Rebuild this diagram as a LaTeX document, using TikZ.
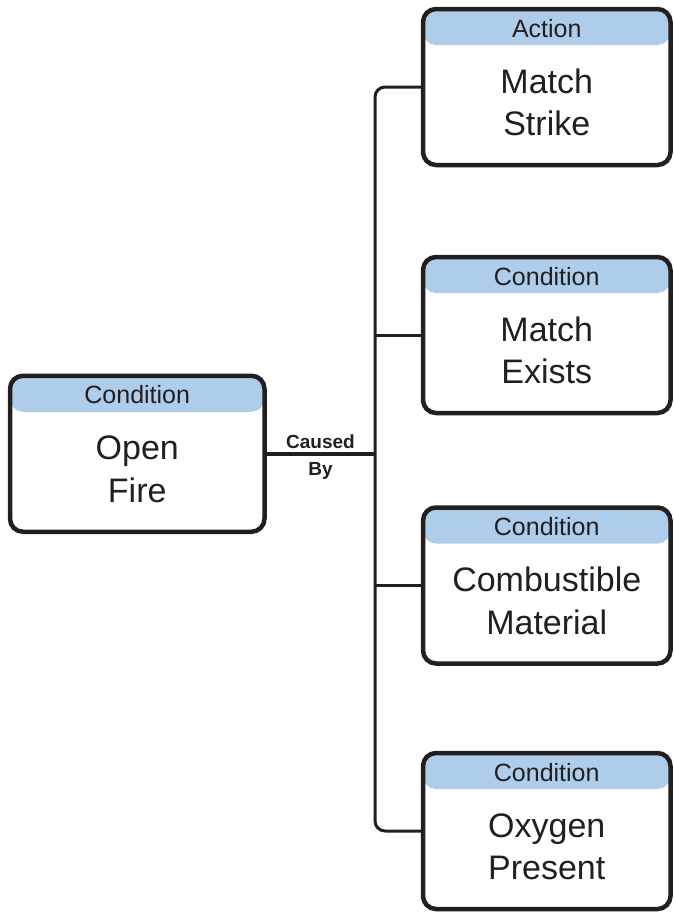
\documentclass[tikz,border=0pt]{standalone}
\usepackage{fontspec}
\setmainfont{Liberation Sans}
\definecolor{headblue}{RGB}{174,205,235}
\definecolor{ink}{RGB}{35,31,32}
\tikzset{
  evbox/.style={draw=ink, line width=4.5pt, rounded corners=13pt, outer sep=0pt,
    inner sep=0pt, minimum height=156pt,
    path picture={\fill[headblue] (path picture bounding box.north west)
      rectangle ([yshift=-36pt]path picture bounding box.north east);}},
  headtext/.style={anchor=base, inner sep=0pt, text=ink,
    font=\fontsize{25}{30}\selectfont},
  bodytext/.style={anchor=base, inner sep=0pt, align=center, text=ink,
    font=\fontsize{34}{42.5}\selectfont},
  wire/.style={draw=ink, line width=3pt},
  mainwire/.style={draw=ink, line width=4pt},
  tag/.style={anchor=base, inner sep=0pt, align=center, text=ink,
    font=\fontsize{19}{27}\selectfont\bfseries}
}
% #1 name, #2 x, #3 y, #4 width, #5 header, #6 body (two lines, placed by the last baseline)
\newcommand\eventbox[6]{%
  \node[evbox, minimum width=#4] (#1) at (#2,#3) {};
  \node[headtext] (#1-head) at ([yshift=-28pt]#1.north) {#5};
  \node[bodytext] (#1-body) at ([yshift=-126.5pt]#1.north) {#6};
}
\begin{document}
\begin{tikzpicture}[x=1pt, y=-1pt]
  \useasboundingbox (0,0) rectangle (673,913);

  \eventbox{fire}{137.25}{453.75}{254.5pt}{Condition}{Open\\Fire}
  \eventbox{strike}{546.75}{87}{247.5pt}{Action}{Match\\Strike}
  \eventbox{exists}{546.75}{335}{247.5pt}{Condition}{Match\\Exists}
  \eventbox{fuel}{546.75}{585.5}{247.5pt}{Condition}{Combustible\\Material}
  \eventbox{oxygen}{546.75}{831}{247.5pt}{Condition}{Oxygen\\Present}

  % bus joining the causes
  \coordinate (junction) at (375,453.75);
  \draw[mainwire] (fire.east) -- (junction);
  \draw[wire, rounded corners=10pt] (strike.west) -- (strike.west -| junction)
    -- (oxygen.west -| junction) -- (oxygen.west);
  \draw[wire] (exists.west -| junction) -- (exists.west);
  \draw[wire] (fuel.west -| junction) -- (fuel.west);

  \node[tag] (causedby) at (320.5,475) {Caused\\By};
\end{tikzpicture}
\end{document}
